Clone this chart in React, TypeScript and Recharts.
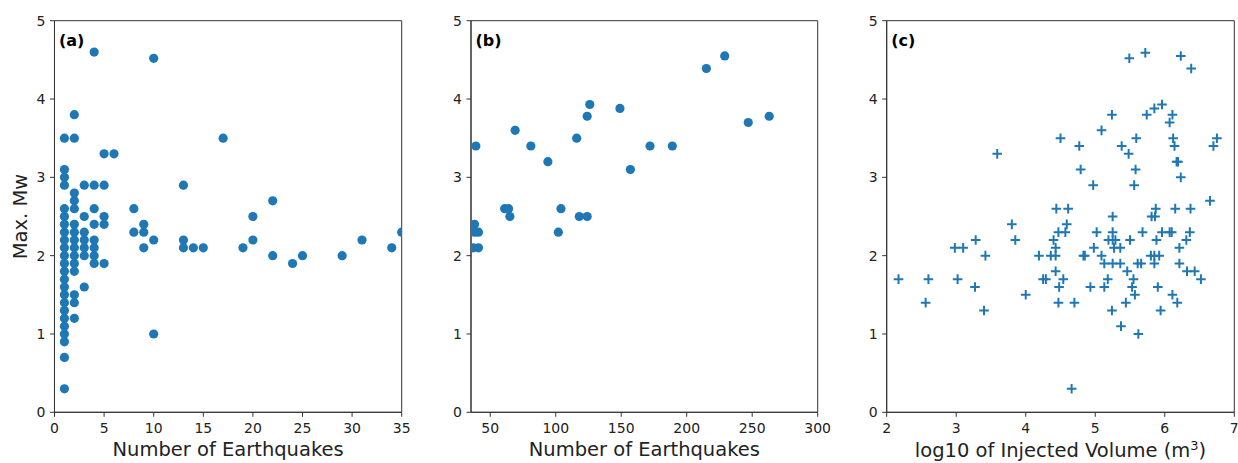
import React from 'react';
import { ScatterChart, Scatter, XAxis, YAxis, Label, ReferenceArea } from 'recharts';

const FONT = "'DejaVu Sans', sans-serif";
const BLUE = '#1f77b4';
const AXIS = '#333333';
const TEXT = '#222222';

const mwDomain: [number, number] = [0, 5];
const mwTicks = [0, 1, 2, 3, 4, 5];
const countTicksA = [0, 5, 10, 15, 20, 25, 30, 35];
const countTicksB = [50, 100, 150, 200, 250, 300];
const volumeTicks = [2, 3, 4, 5, 6, 7];

const xLabelCount = 'Number of Earthquakes';
const yLabel = 'Max. Mw';

// (a) number of earthquakes vs max Mw
const panelA: [number, number][] = [
  [1, 0.3], [1, 0.7], [1, 0.9], [1, 1.0], [1, 1.1], [1, 1.2], [1, 1.3], [1, 1.4], [1, 1.5], [1, 1.6],
  [1, 1.7], [1, 1.8], [1, 1.9], [1, 2.0], [1, 2.1], [1, 2.2], [1, 2.3], [1, 2.4], [1, 2.5], [1, 2.6],
  [1, 2.9], [1, 3.0], [1, 3.1], [1, 3.5],
  [2, 1.2], [2, 1.4], [2, 1.5], [2, 1.8], [2, 1.9], [2, 2.0], [2, 2.1], [2, 2.2], [2, 2.3], [2, 2.4],
  [2, 2.6], [2, 2.7], [2, 2.8], [2, 3.5], [2, 3.8],
  [3, 1.6], [3, 2.0], [3, 2.1], [3, 2.2], [3, 2.3], [3, 2.5], [3, 2.9],
  [4, 1.9], [4, 2.0], [4, 2.1], [4, 2.2], [4, 2.4], [4, 2.6], [4, 2.9], [4, 4.6],
  [5, 1.9], [5, 2.4], [5, 2.5], [5, 2.9], [5, 3.3],
  [6, 3.3],
  [8, 2.3], [8, 2.6],
  [9, 2.1], [9, 2.3], [9, 2.4],
  [10, 1.0], [10, 2.2], [10, 4.52],
  [13, 2.1], [13, 2.2], [13, 2.9],
  [14, 2.1], [15, 2.1], [17, 3.5], [19, 2.1],
  [20, 2.2], [20, 2.5], [22, 2.0], [22, 2.7],
  [24, 1.9], [25, 2.0], [29, 2.0], [31, 2.2], [34, 2.1], [35, 2.3],
];

// (b) larger sequences
const panelB: [number, number][] = [
  [37, 2.1], [38, 2.3], [38, 2.4], [41, 2.3], [41, 2.1], [39, 3.4],
  [61, 2.6], [64, 2.6], [65, 2.5], [69, 3.6], [81, 3.4], [94, 3.2],
  [102, 2.3], [104, 2.6], [116, 3.5], [118, 2.5], [124, 2.5], [124, 3.78],
  [126, 3.93], [149, 3.88], [157, 3.1], [172, 3.4], [189, 3.4],
  [215, 4.39], [229, 4.55], [247, 3.7], [263, 3.78],
];

// (c) log10 injected volume vs max Mw
const panelC: [number, number][] = [
  [2.17, 1.7], [2.56, 1.4], [2.6, 1.7], [2.98, 2.1], [3.1, 2.1], [3.02, 1.7], [3.28, 2.2], [3.27, 1.6],
  [3.42, 2.0], [3.4, 1.3], [3.59, 3.3], [3.8, 2.4], [3.85, 2.2], [4.0, 1.5], [4.19, 2.0], [4.25, 1.7],
  [4.29, 1.7], [4.36, 2.0], [4.43, 2.0], [4.4, 2.2], [4.43, 2.1], [4.44, 2.6], [4.43, 1.8], [4.48, 1.6],
  [4.47, 1.4], [4.5, 3.5], [4.47, 2.3], [4.54, 1.7], [4.57, 2.3], [4.59, 2.4], [4.61, 2.6], [4.66, 0.3],
  [4.7, 1.4], [4.77, 3.4], [4.79, 3.1], [4.83, 2.0], [4.85, 2.0], [4.93, 1.6], [4.97, 2.9], [4.98, 2.1],
  [5.02, 2.3], [5.09, 3.6], [5.09, 2.0], [5.13, 1.9], [5.13, 1.6], [5.18, 1.7], [5.24, 3.8], [5.25, 2.5],
  [5.25, 2.3], [5.19, 2.2], [5.25, 2.2], [5.27, 2.1], [5.25, 1.9], [5.24, 1.3], [5.29, 2.2], [5.36, 2.1],
  [5.36, 1.9], [5.38, 3.4], [5.37, 1.1], [5.44, 1.4], [5.46, 1.8], [5.48, 3.3], [5.49, 4.52], [5.5, 2.2],
  [5.53, 1.6], [5.55, 1.7], [5.56, 2.9], [5.58, 3.1], [5.59, 3.5], [5.57, 1.5], [5.61, 1.9], [5.62, 1.0],
  [5.66, 1.9], [5.68, 2.3], [5.72, 4.59], [5.74, 3.8], [5.8, 2.0], [5.81, 2.5], [5.85, 3.88], [5.85, 1.9],
  [5.85, 2.0], [5.86, 2.5], [5.87, 2.6], [5.88, 2.2], [5.9, 1.6], [5.92, 2.0], [5.94, 1.3], [5.96, 3.93],
  [5.96, 2.3], [6.07, 2.3], [6.1, 2.3], [6.07, 3.7], [6.11, 3.8], [6.12, 3.5], [6.14, 3.4], [6.15, 2.6],
  [6.17, 3.2], [6.19, 3.2], [6.21, 2.1], [6.23, 3.0], [6.21, 1.9], [6.23, 4.55], [6.11, 1.5], [6.18, 1.4],
  [6.31, 2.2], [6.32, 1.8], [6.36, 2.3], [6.37, 2.6], [6.38, 4.39], [6.43, 1.8], [6.52, 1.7], [6.65, 2.7],
  [6.7, 3.4], [6.75, 3.5],
];

const toRows = (pts: [number, number][]) => pts.map(([x, y]) => ({ x, y }));

const Dot = (p: any) => <circle cx={p.cx} cy={p.cy} r={4.6} fill={BLUE} />;
const Plus = (p: any) => (
  <path
    d={`M${p.cx - 4.8},${p.cy}H${p.cx + 4.8}M${p.cx},${p.cy - 4.8}V${p.cy + 4.8}`}
    stroke={BLUE}
    strokeWidth={2}
    fill="none"
  />
);

const tickStyle = { fill: TEXT, fontSize: 14, fontFamily: FONT };

type PanelProps = {
  left: number;
  width: number;
  yAxisWidth: number;
  rightMargin: number;
  rows: { x: number; y: number }[];
  xDomain: [number, number];
  xTicks: number[];
  marker: 'dot' | 'plus';
  letter: string;
  xLabel: React.ReactNode;
  showYLabel: boolean;
};

function Panel(props: PanelProps) {
  const { left, width, yAxisWidth, rightMargin, rows, xDomain, xTicks, marker, letter, xLabel, showYLabel } = props;
  return (
    <div style={{ position: 'absolute', left, top: 0 }}>
      <ScatterChart
        width={width}
        height={463}
        margin={{ top: 20.7, right: rightMargin, bottom: 0, left: 0 }}
      >
        <XAxis
          dataKey="x"
          type="number"
          domain={xDomain}
          ticks={xTicks}
          allowDataOverflow
          height={50.7}
          tickSize={4.5}
          tickMargin={6}
          tick={tickStyle}
          axisLine={{ stroke: AXIS, strokeWidth: 1 }}
          tickLine={{ stroke: AXIS, strokeWidth: 1 }}
          interval={0}
        >
          <Label
            content={(lp: any) => {
              const vb = lp.viewBox;
              return (
                <text
                  x={vb.x + vb.width / 2}
                  y={vb.y + vb.height - 6.5}
                  textAnchor="middle"
                  fontSize={19.5}
                  fontFamily={FONT}
                  fill={TEXT}
                >
                  {xLabel}
                </text>
              );
            }}
          />
        </XAxis>
        <YAxis
          dataKey="y"
          type="number"
          domain={mwDomain}
          ticks={mwTicks}
          allowDataOverflow
          width={yAxisWidth}
          tickSize={4.5}
          tickMargin={4.5}
          tick={tickStyle}
          axisLine={{ stroke: AXIS, strokeWidth: 1 }}
          tickLine={{ stroke: AXIS, strokeWidth: 1 }}
          interval={0}
        >
          {showYLabel ? (
            <Label
              content={(lp: any) => {
                const vb = lp.viewBox;
                const cx = vb.x + 27;
                const cy = vb.y + vb.height / 2;
                return (
                  <text
                    x={cx}
                    y={cy}
                    transform={`rotate(-90, ${cx}, ${cy})`}
                    textAnchor="middle"
                    fontSize={19.5}
                    fontFamily={FONT}
                    fill={TEXT}
                  >
                    {yLabel}
                  </text>
                );
              }}
            />
          ) : null}
        </YAxis>
        <Scatter
          data={rows}
          isAnimationActive={false}
          shape={marker === 'dot' ? Dot : Plus}
        />
        <ReferenceArea
          x1={xDomain[0]}
          x2={xDomain[1]}
          y1={mwDomain[0]}
          y2={mwDomain[1]}
          fill="none"
          fillOpacity={0}
          stroke={AXIS}
          strokeWidth={1}
          ifOverflow="visible"
        >
          <Label
            content={(lp: any) => {
              const vb = lp.viewBox;
              return (
                <text
                  x={vb.x + 4.5}
                  y={vb.y + 25}
                  fontSize={16}
                  fontWeight="bold"
                  fontFamily={FONT}
                  fill="#000"
                >
                  {letter}
                </text>
              );
            }}
          />
        </ReferenceArea>
      </ScatterChart>
    </div>
  );
}

export default function App() {
  const volumeLabel = (
    <>
      <tspan>log10 of Injected Volume (m</tspan>
      <tspan dy={-7} fontSize={13}>3</tspan>
      <tspan dy={7}>)</tspan>
    </>
  );
  return (
    <div style={{ position: 'absolute', left: 0, top: 0, width: 1238, height: 463, background: '#fff' }}>
      <Panel
        left={0}
        width={411.7}
        yAxisWidth={54.5}
        rightMargin={10}
        rows={toRows(panelA)}
        xDomain={[0, 35]}
        xTicks={countTicksA}
        marker="dot"
        letter="(a)"
        xLabel={xLabelCount}
        showYLabel
      />
      <Panel
        left={420}
        width={415.7}
        yAxisWidth={51}
        rightMargin={18}
        rows={toRows(panelB)}
        xDomain={[35.3, 300]}
        xTicks={countTicksB}
        marker="dot"
        letter="(b)"
        xLabel={xLabelCount}
        showYLabel={false}
      />
      <Panel
        left={840}
        width={398}
        yAxisWidth={46.7}
        rightMargin={3.7}
        rows={toRows(panelC)}
        xDomain={[2, 7]}
        xTicks={volumeTicks}
        marker="plus"
        letter="(c)"
        xLabel={volumeLabel}
        showYLabel={false}
      />
    </div>
  );
}
